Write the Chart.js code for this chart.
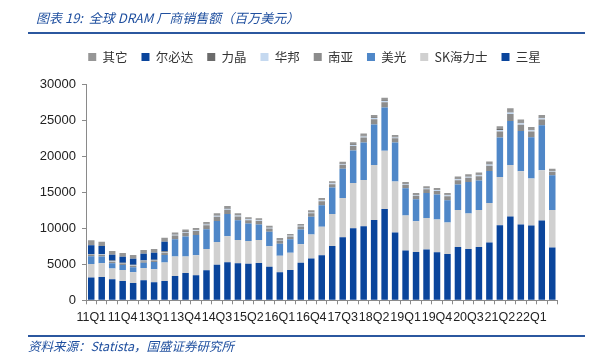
<!DOCTYPE html>
<html>
<head>
<meta charset="utf-8">
<script src="https://cdn.jsdelivr.net/npm/chart.js@4.4.0/dist/chart.umd.min.js"></script>
<style>
html,body{margin:0;padding:0;background:#fff;width:601px;height:357px;overflow:hidden;}
#wrap{position:absolute;left:0;top:0;width:601px;height:357px;}
#c{position:absolute;left:0;top:0;}
#title{position:absolute;left:36px;top:9px;font-family:"Noto Sans CJK SC";font-style:italic;font-size:13px;color:#1f4f9f;white-space:nowrap;line-height:18px;}
#tline{position:absolute;left:28px;top:32px;width:557px;height:2px;background:#2b579f;}
#bline{position:absolute;left:28px;top:335px;width:557px;height:1.5px;background:#2b579f;}
#src{position:absolute;left:28px;top:337px;font-family:"Noto Sans CJK SC";font-style:italic;font-size:12.5px;color:#1f4f9f;white-space:nowrap;line-height:17px;}
</style>
</head>
<body>
<div id="wrap">
<canvas id="c" width="601" height="357"></canvas>
<div id="title">图表 19:&nbsp; 全球 DRAM 厂商销售额（百万美元）</div>
<div id="tline"></div>
<div id="bline"></div>
<div id="src">资料来源：Statista，国盛证券研究所</div>
</div>
<script>
const categories = ['11Q1','11Q2','11Q3','11Q4','12Q2','12Q4',
  '13Q1','13Q2','13Q3','13Q4','14Q1','14Q2','14Q3','14Q4',
  '15Q1','15Q2','15Q3','15Q4','16Q1','16Q2','16Q3','16Q4',
  '17Q1','17Q2','17Q3','17Q4','18Q1','18Q2','18Q3','18Q4',
  '19Q1','19Q2','19Q3','19Q4','20Q1','20Q2','20Q3','20Q4',
  '21Q1','21Q2','21Q3','21Q4','22Q1','22Q2','22Q3'];
const shownTicks = ['11Q1','11Q4','13Q1','13Q4','14Q3','15Q2','16Q1','16Q4','17Q3','18Q2','19Q1','19Q4','20Q3','21Q2','22Q1'];
const yTicks = [0,5000,10000,15000,20000,25000,30000];

const samsung = [3150,3240,2920,2690,2410,2780,2500,2690,3380,3800,
  3470,4170,4950,5300,5140,5090,5190,4650,3890,4210,
  5210,5790,6250,7550,8750,10000,10280,11160,12690,9400,
  6900,6710,7040,6670,6440,7410,7130,7410,8010,10420,
  11620,10510,10370,11070,7320];
const skhynix = [1900,1900,1480,1530,1480,1710,1800,2550,2690,2270,
  2780,2960,3130,3590,3240,3150,3200,2870,2300,2380,
  2590,3350,3980,4440,5460,6300,6440,7640,8060,7080,
  4860,4260,4400,4540,4350,5140,4910,5140,5510,6710,
  7180,7410,6530,6990,5230];
const micron = [1065,925,740,690,690,740,1020,1065,2410,2780,
  2820,2730,2920,3080,2730,2410,2130,1990,1660,1870,
  2040,2470,2980,3660,4070,4490,5190,5600,6020,5420,
  3800,3060,3470,3470,3100,3520,4400,4070,4440,5460,
  6110,5600,5740,6250,4820];
const nanya = [200,230,230,200,230,200,200,300,510,530,
  540,560,600,610,540,480,480,450,440,400,
  420,480,550,480,530,640,690,740,740,590,
  480,480,510,510,560,610,590,610,720,860,
  970,860,790,790,480];
const winbond = [50,60,60,50,60,50,50,80,110,120,
  110,120,130,130,120,110,110,100,100,90,
  90,110,120,110,120,140,150,160,160,130,
  110,110,110,110,120,130,130,130,160,190,
  210,190,170,170,110];
const powerchip = [70,80,80,70,80,70,70,130,80,80,
  80,80,90,90,80,70,70,70,60,60,
  60,70,80,70,80,90,100,110,110,80,
  70,70,80,80,80,90,80,90,100,130,
  140,130,110,110,70];
const elpida = [1200,1110,830,830,830,930,970,1300,0,0,
  0,0,0,0,0,0,0,0,0,0,
  0,0,0,0,0,0,0,0,0,0,
  0,0,0,0,0,0,0,0,0,0,
  0,0,0,0,0];
const others = [690,600,510,510,510,510,510,560,230,240,
  240,260,270,280,250,220,220,210,210,190,
  200,220,250,220,240,290,310,330,330,270,
  220,220,230,230,260,280,270,280,320,390,
  440,390,360,360,220];

const seriesNames = ['三星','SK海力士','美光','南亚','华邦','力晶','尔必达','其它'];
const seriesData = [samsung, skhynix, micron, nanya, winbond, powerchip, elpida, others];
const seriesColors = ['#0a459c','#d0d0d0','#4f87c8','#8c8c8c','#c5d9f0','#6b6b6b','#0a459c','#969696'];

const legendAdjust = {
  id: 'legendAdjust',
  beforeInit(chart) {
    const origFit = chart.legend.fit;
    chart.legend.fit = function () {
      origFit.bind(chart.legend)();
      this.height += 11;
    };
  },
  afterLayout(chart) {
    const lg = chart.legend;
    const shift = 314.5 - (lg.left + lg.right) / 2;
    lg.left += shift;
    lg.right += shift;
  }
};

new Chart(document.getElementById('c'), {
  type: 'bar',
  data: {
    labels: categories,
    datasets: seriesNames.map((n, i) => ({
      label: n,
      data: seriesData[i],
      backgroundColor: seriesColors[i],
      borderWidth: 0,
      barPercentage: 0.62,
      categoryPercentage: 1
    }))
  },
  plugins: [legendAdjust],
  options: {
    responsive: false,
    animation: false,
    layout: { padding: { left: 0, right: 43.5, top: 36.75, bottom: 30.7 } },
    plugins: {
      legend: {
        position: 'top',
        reverse: true,
        labels: {
          boxWidth: 8, boxHeight: 8, padding: 14, color: '#333',
          font: { family: 'Noto Sans CJK SC', size: 12.5 }
        }
      },
      tooltip: { enabled: false }
    },
    scales: {
      x: {
        stacked: true,
        grid: { offset: true, drawOnChartArea: false, drawTicks: true, tickLength: 4, color: '#8a8a8a' },
        border: { color: '#8a8a8a', width: 1 },
        ticks: {
          autoSkip: false, maxRotation: 0, minRotation: 0, padding: 6, color: '#222',
          font: { family: 'Liberation Sans', size: 12.5 },
          callback: function (v, i) { const l = categories[i]; return shownTicks.includes(l) ? l : ''; }
        },
        afterFit(s) { s.height = 26; }
      },
      y: {
        stacked: true,
        min: 0, max: 30000,
        afterBuildTicks(s) { s.ticks = yTicks.map(v => ({ value: v })); },
        grid: { drawOnChartArea: false, drawTicks: true, tickLength: 4, color: '#8a8a8a' },
        border: { color: '#8a8a8a', width: 1 },
        ticks: {
          padding: 6, color: '#222',
          font: { family: 'Liberation Sans', size: 13 },
          callback: v => String(v)
        },
        afterFit(s) { s.width = 86; }
      }
    }
  }
});
</script>
</body>
</html>
